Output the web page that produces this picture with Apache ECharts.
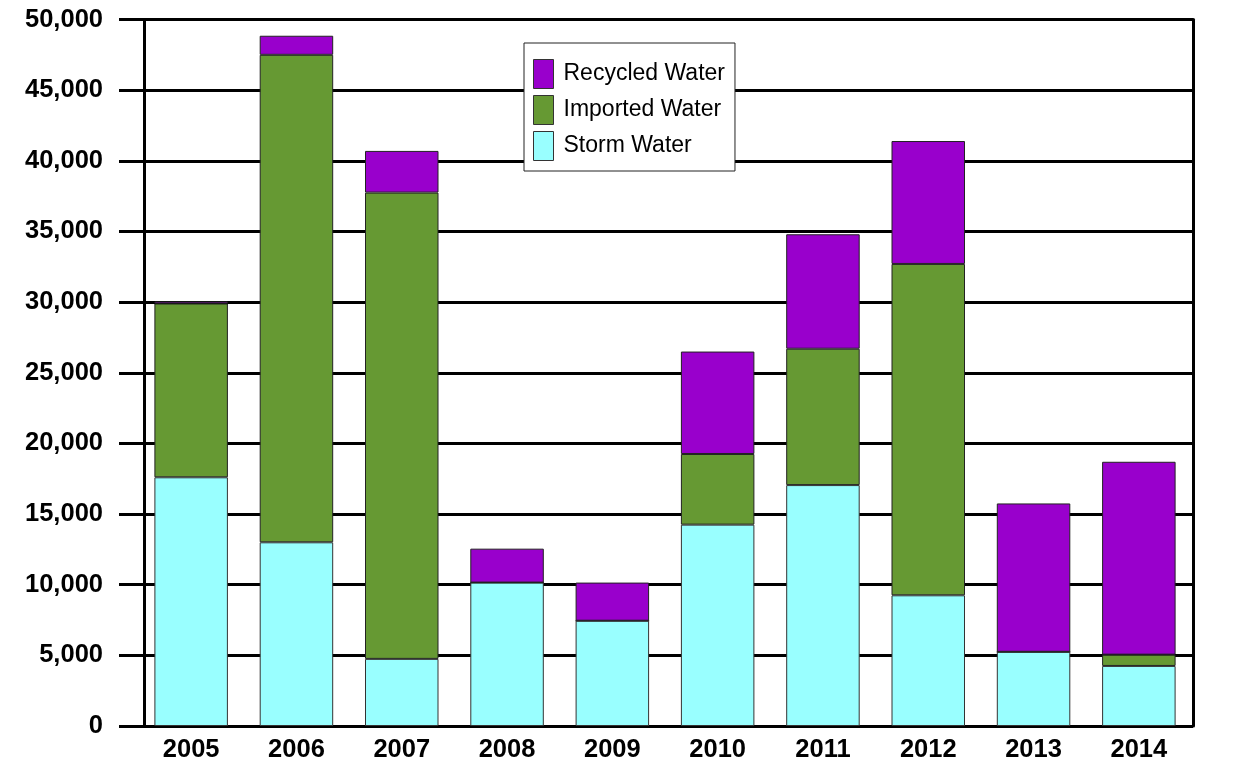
<!DOCTYPE html>
<html>
<head>
<meta charset="utf-8">
<script src="https://cdn.jsdelivr.net/npm/echarts@6/dist/echarts.min.js"></script>
<style>html,body{margin:0;padding:0;background:#fff;}#c{width:1242px;height:771px;}</style>
</head>
<body>
<div id="c"></div>
<script>
const years = ['2005','2006','2007','2008','2009','2010','2011','2012','2013','2014'];
const stormWater = [17600, 13000, 4750, 10150, 7450, 14250, 17050, 9250, 5250, 4250];
const importedWater = [12300, 34500, 33000, 0, 0, 5000, 9650, 23450, 0, 800];
const recycledWater = [150, 1350, 2950, 2400, 2700, 7250, 8100, 8700, 10500, 13650];
const yTicks = [0, 5000, 10000, 15000, 20000, 25000, 30000, 35000, 40000, 45000, 50000];

const FONT = "'Liberation Sans', Arial, sans-serif";
const chart = echarts.init(document.getElementById('c'), null, {renderer: 'canvas'});
const fmt = v => v.toLocaleString('en-US');

chart.setOption({
  backgroundColor: '#ffffff',
  animation: false,
  legend: {
    data: ['Recycled Water', 'Imported Water', 'Storm Water'],
    orient: 'vertical',
    icon: 'rect',
    left: 524, top: 43,
    padding: [16, 10, 10, 9],
    itemWidth: 20, itemHeight: 29, itemGap: 6,
    backgroundColor: '#fff',
    borderColor: '#222', borderWidth: 1,
    textStyle: {fontFamily: FONT, fontSize: 23, color: '#000', padding: [0, 0, 0, 5]},
    itemStyle: {borderColor: '#333', borderWidth: 1}
  },
  grid: [
    {left: 144, right: 49, top: 19.5, bottom: 45},
    {left: 138.5, right: 50.5, top: 19.5, bottom: 45}
  ],
  xAxis: [
    {gridIndex: 0, type: 'value', show: false, min: 0, max: 1},
    {gridIndex: 1, type: 'category', data: years,
      axisLine: {show: false}, axisTick: {show: false},
      axisLabel: {fontFamily: FONT, fontSize: 25.5, fontWeight: 'bold', color: '#000', margin: 11}}
  ],
  yAxis: [
    {gridIndex: 0, type: 'value', min: yTicks[0], max: yTicks[yTicks.length-1], interval: yTicks[1]-yTicks[0],
      axisLine: {show: true, lineStyle: {color: '#000', width: 3}},
      axisTick: {show: true, length: 25, lineStyle: {color: '#000', width: 3}},
      splitLine: {show: true, lineStyle: {color: '#000', width: 3}},
      axisLabel: {fontFamily: FONT, fontSize: 25.5, fontWeight: 'bold', color: '#000', margin: 41, formatter: fmt}},
    {gridIndex: 0, type: 'value', position: 'right', min: 0, max: 50000, interval: 5000,
      axisLine: {show: true, lineStyle: {color: '#000', width: 3}},
      axisTick: {show: false}, splitLine: {show: false}, axisLabel: {show: false}},
    {gridIndex: 1, type: 'value', min: 0, max: 50000, show: false, splitLine: {show: false}}
  ],
  series: [
    {name: 'Storm Water', type: 'bar', stack: 'w', xAxisIndex: 1, yAxisIndex: 2, data: stormWater,
      barWidth: 73.5, itemStyle: {color: '#99FFFF', borderColor: '#333', borderWidth: 1}},
    {name: 'Imported Water', type: 'bar', stack: 'w', xAxisIndex: 1, yAxisIndex: 2, data: importedWater,
      barWidth: 73.5, itemStyle: {color: '#669933', borderColor: '#222', borderWidth: 1}},
    {name: 'Recycled Water', type: 'bar', stack: 'w', xAxisIndex: 1, yAxisIndex: 2, data: recycledWater,
      barWidth: 73.5, itemStyle: {color: '#9900CC', borderColor: '#222', borderWidth: 1}}
  ]
});
</script>
</body>
</html>
